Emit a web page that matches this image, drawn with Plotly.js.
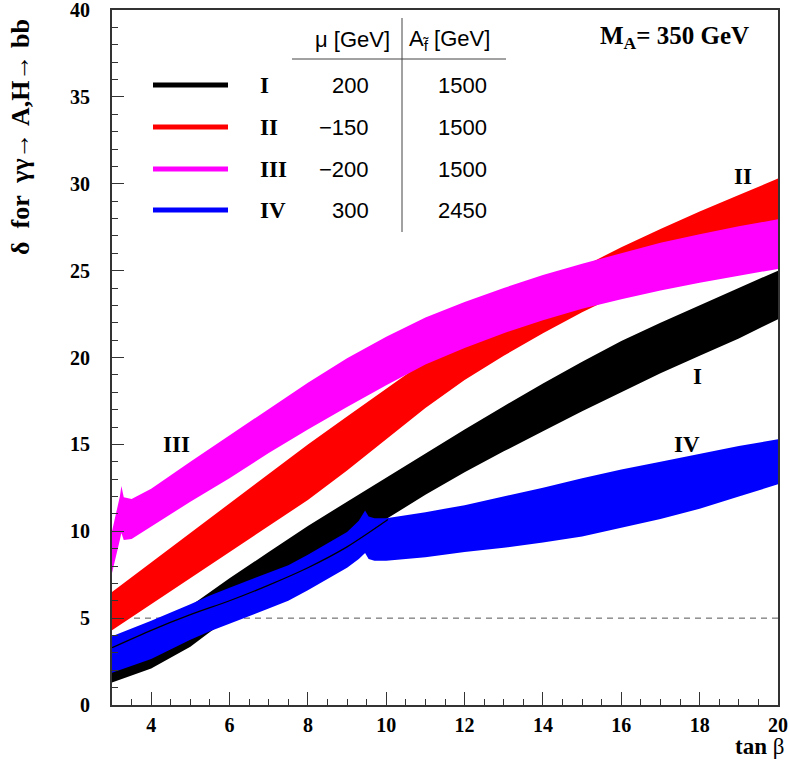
<!DOCTYPE html>
<html>
<head>
<meta charset="utf-8">
<script src="https://cdn.plot.ly/plotly-3.0.1.min.js"></script>
<style>html,body{margin:0;padding:0;background:#fff;}#chart{width:789px;height:761px;}</style>
</head>
<body>
<div id="chart"></div>
<script>
// ---- data ----
const bandNames = ['I', 'II', 'III', 'IV'];
const muValues = ['200', '\u2212150', '\u2212200', '300'];
const aValues = ['1500', '1500', '1500', '2450'];
const bandColors = ['#000000', '#ff0000', '#ff00ff', '#0000ff'];

// Band I (black)
const tanbI = [3, 4, 5, 5.5, 6, 7, 8, 9, 9.5, 10, 11, 12, 13, 14, 15, 16, 17, 18, 19, 20];
const upperI = [3.6, 4.6, 5.7, 6.5, 7.3, 8.8, 10.3, 11.7, 12.4, 13.1, 14.5, 15.85, 17.2, 18.5, 19.75, 20.95, 22.0, 23.0, 24.0, 25.0];
const lowerI = [1.3, 2.1, 3.35, 4.2, 5.0, 6.4, 7.8, 9.2, 9.9, 10.7, 12.1, 13.4, 14.6, 15.75, 16.9, 18.0, 19.1, 20.1, 21.1, 22.2];

// Band II (red)
const tanbII = [3, 4, 5, 6, 7, 8, 9, 10, 11, 12, 13, 14, 15, 16, 17, 18, 19, 20];
const upperII = [6.5, 8.2, 9.9, 11.6, 13.3, 15.0, 16.6, 18.2, 19.8, 21.3, 22.75, 24.05, 25.2, 26.35, 27.4, 28.4, 29.35, 30.3];
const lowerII = [4.3, 5.8, 7.3, 8.8, 10.3, 11.8, 13.5, 15.3, 17.1, 18.7, 20.1, 21.4, 22.6, 23.7, 24.7, 25.6, 26.4, 27.2];

// Band III (magenta)
const tanbIII = [3.0, 3.1, 3.2, 3.24, 3.3, 3.5, 4, 5, 6, 7, 8, 9, 10, 11, 12, 13, 14, 15, 16, 17, 18, 19, 20];
const upperIII = [10.0, 11.0, 12.0, 12.6, 11.95, 11.85, 12.45, 14.0, 15.5, 17.0, 18.55, 19.95, 21.2, 22.3, 23.2, 24.0, 24.75, 25.4, 26.0, 26.6, 27.1, 27.55, 27.95];
const lowerIII = [7.6, 8.5, 9.5, 9.9, 9.5, 9.55, 10.3, 11.7, 13.05, 14.5, 15.85, 17.15, 18.4, 19.6, 20.55, 21.4, 22.15, 22.8, 23.35, 23.85, 24.3, 24.7, 25.1];

// Band IV (blue)
const tanbIV = [3, 4, 5, 5.5, 6, 7, 7.5, 8, 9, 9.3, 9.46, 9.55, 9.7, 10, 11, 12, 13, 14, 15, 16, 17, 18, 19, 20];
const upperIV = [3.95, 4.85, 5.8, 6.3, 6.75, 7.6, 8.05, 8.65, 9.95, 10.6, 11.2, 10.85, 10.75, 10.75, 11.1, 11.5, 12.0, 12.5, 13.05, 13.55, 14.0, 14.45, 14.9, 15.3];
const lowerIV = [1.85, 2.65, 3.75, 4.25, 4.7, 5.55, 6.0, 6.6, 7.9, 8.4, 8.75, 8.4, 8.3, 8.3, 8.5, 8.8, 9.05, 9.35, 9.7, 10.2, 10.7, 11.3, 12.0, 12.7];

// thin black curve inside band IV
const tanbLine = [3, 4, 5, 6, 7, 8, 9, 10, 10.04];
const deltaLine = [3.3, 4.3, 5.2, 6.0, 6.9, 7.9, 9.1, 10.6, 10.67];

// reference level
const refTanb = [3, 20];
const refLevel = 5;

const xTicks = [4, 6, 8, 10, 12, 14, 16, 18, 20];
const yTicks = [0, 5, 10, 15, 20, 25, 30, 35, 40];

// ---- build traces ----
function band(x, up, lo, color) {
  return {
    x: x.concat(x.slice().reverse()),
    y: up.concat(lo.slice().reverse()),
    type: 'scatter', mode: 'lines', fill: 'toself',
    fillcolor: color, line: {width: 0, color: color},
    hoverinfo: 'skip', showlegend: false
  };
}

const traces = [
  {x: refTanb, y: [refLevel, refLevel], type: 'scatter', mode: 'lines',
   line: {color: '#555', width: 1, dash: '6px,5px'}, showlegend: false, hoverinfo: 'skip'},
  band(tanbI, upperI, lowerI, bandColors[0]),
  band(tanbII, upperII, lowerII, bandColors[1]),
  band(tanbIII, upperIII, lowerIII, bandColors[2]),
  band(tanbIV, upperIV, lowerIV, bandColors[3]),
  {x: tanbLine, y: deltaLine, type: 'scatter', mode: 'lines',
   line: {color: '#000', width: 1.3, shape: 'spline', smoothing: 0.6}, showlegend: false, hoverinfo: 'skip'}
];

// ---- layout helpers (pixel -> paper) ----
const L = 112, R = 778, T = 10, B = 705;
const px = p => (p - L) / (R - L);
const py = p => (B - p) / (B - T);

const serifB = {family: 'Liberation Serif, Times New Roman, serif', size: 23, color: '#000', weight: 'bold'};
const sans = {family: 'Liberation Sans, Arial, sans-serif', size: 22, color: '#000'};

const rowY = [85, 127, 169, 210];
const shapes = [];
const annotations = [];

rowY.forEach((yy, i) => {
  shapes.push({type: 'line', xref: 'paper', yref: 'paper', x0: px(153), x1: px(228), y0: py(yy), y1: py(yy),
               line: {color: bandColors[i], width: 5}});
  annotations.push({xref: 'paper', yref: 'paper', x: px(258), y: py(yy), xanchor: 'left', yanchor: 'middle',
                    text: bandNames[i], showarrow: false, font: serifB});
  annotations.push({xref: 'paper', yref: 'paper', x: px(371), y: py(yy), xanchor: 'right', yanchor: 'middle',
                    text: muValues[i], showarrow: false, font: sans});
  annotations.push({xref: 'paper', yref: 'paper', x: px(489), y: py(yy), xanchor: 'right', yanchor: 'middle',
                    text: aValues[i], showarrow: false, font: sans});
});
// table header and rules
annotations.push({xref: 'paper', yref: 'paper', x: px(392), y: py(40), xanchor: 'right', yanchor: 'middle',
                  text: '\u03bc [GeV]', showarrow: false, font: sans});
annotations.push({xref: 'paper', yref: 'paper', x: px(407), y: py(40), xanchor: 'left', yanchor: 'middle',
                  text: 'A<sub>f\u0303</sub> [GeV]', showarrow: false, font: sans});
shapes.push({type: 'line', xref: 'paper', yref: 'paper', x0: px(402), x1: px(402), y0: py(18), y1: py(232),
             line: {color: '#444', width: 1}});
shapes.push({type: 'line', xref: 'paper', yref: 'paper', x0: px(292), x1: px(506), y0: py(59), y1: py(59),
             line: {color: '#444', width: 1}});

// M_A label
annotations.push({xref: 'paper', yref: 'paper', x: px(751), y: py(37), xanchor: 'right', yanchor: 'middle',
                  text: 'M<sub>A</sub>= 350 GeV', showarrow: false,
                  font: {family: 'Liberation Serif, serif', size: 25, color: '#000', weight: 'bold'}});
// band labels
[['II', 743, 176], ['I', 697, 376], ['IV', 687, 444], ['III', 176, 444]].forEach(a => {
  annotations.push({xref: 'paper', yref: 'paper', x: px(a[1]), y: py(a[2]), xanchor: 'center', yanchor: 'middle',
                    text: a[0], showarrow: false, font: serifB});
});
// axis titles
annotations.push({xref: 'paper', yref: 'paper', x: px(20), y: py(137), xanchor: 'center', yanchor: 'middle',
                  textangle: -90, text: '\u03b4  for  \u03b3\u03b3\u2192 A,H\u2192 bb', showarrow: false,
                  font: {family: 'Liberation Serif, serif', size: 26, color: '#000', weight: 'bold'}});
annotations.push({xref: 'paper', yref: 'paper', x: px(786), y: py(746), xanchor: 'right', yanchor: 'middle',
                  text: '<b>tan</b> \u03b2', showarrow: false,
                  font: {family: 'Liberation Serif, serif', size: 23, color: '#000'}});

const tickFont = {family: 'Liberation Serif, Times New Roman, serif', size: 20, color: '#000', weight: 'bold'};

const layout = {
  width: 789, height: 761,
  margin: {l: L, r: 789 - R, t: T, b: 761 - B, pad: 0},
  paper_bgcolor: '#fff', plot_bgcolor: '#fff',
  showlegend: false,
  xaxis: {
    range: [3, 20], tickvals: xTicks, ticktext: xTicks.map(String),
    ticks: 'inside', ticklen: 13, tickwidth: 1, tickcolor: '#333',
    minor: {dtick: 0.5, tick0: 3, ticks: 'inside', ticklen: 6, tickwidth: 1, tickcolor: '#333', showgrid: false},
    showline: true, mirror: true, linecolor: '#333', linewidth: 2,
    showgrid: false, zeroline: false, tickfont: tickFont, ticklabelstandoff: 1,
    ticklabeloverflow: 'allow'
  },
  yaxis: {
    range: [0, 40], tickvals: yTicks, ticktext: yTicks.map(String),
    ticks: 'inside', ticklen: 12, tickwidth: 1, tickcolor: '#333',
    minor: {dtick: 1, tick0: 0, ticks: 'inside', ticklen: 6, tickwidth: 1, tickcolor: '#333', showgrid: false},
    showline: true, mirror: true, linecolor: '#333', linewidth: 2,
    showgrid: false, zeroline: false, tickfont: tickFont, ticklabelstandoff: 16,
    ticklabeloverflow: 'allow'
  },
  shapes: shapes,
  annotations: annotations
};

Plotly.newPlot('chart', traces, layout, {staticPlot: true, displayModeBar: false});
</script>
</body>
</html>
